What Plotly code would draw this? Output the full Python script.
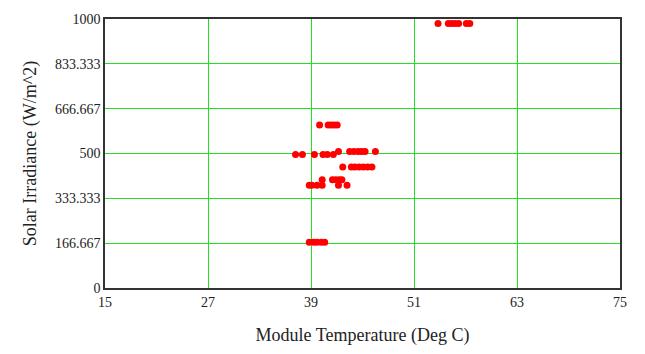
import plotly.graph_objects as go

# Module temperature (deg C) and solar irradiance (W/m^2)
temp = [
    40.0, 41.0, 41.35, 41.7, 42.05,
    37.2, 38.0, 39.4, 40.4, 40.9, 41.6,
    42.2, 43.5, 44.0, 44.5, 44.9, 45.3, 46.5,
    42.7, 43.7, 44.1, 44.6, 45.1, 45.6, 46.1,
    40.3, 41.5, 41.9, 42.3, 42.6,
    38.8, 39.1, 39.7, 40.3, 42.2, 43.2,
    38.8, 39.3, 39.7, 40.2, 40.6,
    53.8, 55.0, 55.4, 55.8, 56.2, 57.1, 57.5,
]
irr = [
    606, 606, 606, 606, 606,
    496, 496, 496, 496, 496, 496,
    507, 507, 507, 507, 507, 507, 507,
    450, 450, 450, 450, 450, 450, 450,
    402, 402, 402, 402, 402,
    382, 382, 382, 382, 382, 382,
    170, 170, 170, 170, 170,
    983, 983, 983, 983, 983, 983, 983,
]

x_ticks = [15, 27, 39, 51, 63, 75]
y_ticks = [0, 166.667, 333.333, 500, 666.667, 833.333, 1000]
y_labels = ["0", "166.667", "333.333", "500", "666.667", "833.333", "1000"]

fig = go.Figure()
fig.add_trace(go.Scatter(
    x=temp, y=irr, mode="markers",
    marker=dict(color="#ff0000", size=7, line=dict(width=0)),
    showlegend=False,
))

font_family = "Liberation Serif"
tick_font = dict(family=font_family, size=14, color="#222")
fig.update_layout(
    width=645, height=354,
    margin=dict(l=105, r=25, t=14, b=65),
    paper_bgcolor="white", plot_bgcolor="white",
    font=dict(family=font_family, size=14, color="#222"),
    xaxis=dict(
        range=[15, 75], tickvals=x_ticks, ticktext=[str(v) for v in x_ticks],
        tickfont=tick_font,
        showgrid=True, gridcolor="#22e022", gridwidth=1.2,
        zeroline=False, showline=True, linecolor="#333", linewidth=1.5, mirror=True,
        ticks="", ticklen=0,
        title=dict(text="Module Temperature (Deg C)", font=dict(size=18, family=font_family, color="#222"), standoff=20),
    ),
    yaxis=dict(
        range=[0, 1000], tickvals=y_ticks, ticktext=y_labels,
        tickfont=tick_font,
        showgrid=True, gridcolor="#22e022", gridwidth=1.2,
        zeroline=False, showline=True, linecolor="#333", linewidth=1.5, mirror=True,
        ticks="", ticklen=0,
        title=dict(text="Solar Irradiance (W/m^2)", font=dict(size=18, family=font_family, color="#222"), standoff=14),
    ),
)

fig.write_html("out.html")
